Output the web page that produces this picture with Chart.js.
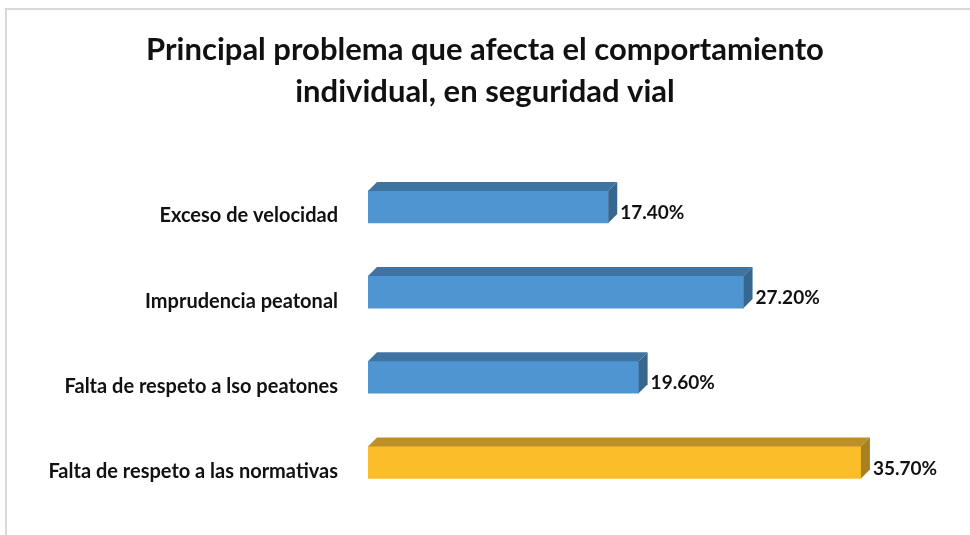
<!DOCTYPE html>
<html>
<head>
<meta charset="utf-8">
<script src="https://cdn.jsdelivr.net/npm/chart.js@4.4.1/dist/chart.umd.min.js"></script>
<style>
  html, body { margin: 0; padding: 0; background: #fff; }
  #wrap { position: relative; width: 970px; height: 535px; }
  #frame {
    position: absolute; left: 5px; top: 8px; right: -2px; bottom: -2px;
    border-top: 2px solid #d9d9d9; border-left: 2px solid #d9d9d9;
    pointer-events: none;
  }
</style>
</head>
<body>
<div id="wrap">
  <canvas id="myChart" width="970" height="535"></canvas>
  <div id="frame"></div>
</div>
<script>
// chart data
const categories = [
  "Exceso de velocidad",
  "Imprudencia peatonal",
  "Falta de respeto a lso peatones",
  "Falta de respeto a las normativas",
];
const values = [17.4, 27.2, 19.6, 35.7];
const highlighted = [false, false, false, true];

// colours for front / top / side faces
const blue = { front: "#4F95D2", top: "#3F73A2", side: "#37678F" };
const gold = { front: "#FCBD2A", top: "#BE8F28", side: "#A9801F" };
const depth = 9;

const fontName = "Lato, 'Open Sans', sans-serif";

// draws the fake 3d faces and the value labels
const bar3d = {
  id: "bar3d",
  afterDatasetsDraw(chart) {
    const { ctx } = chart;
    const meta = chart.getDatasetMeta(0);
    meta.data.forEach((bar, i) => {
      const c = highlighted[i] ? gold : blue;
      const top = bar.y - bar.height / 2;
      const bottom = bar.y + bar.height / 2;
      const left = bar.base;
      const right = bar.x;
      ctx.save();
      // top face
      ctx.fillStyle = c.top;
      ctx.beginPath();
      ctx.moveTo(left, top);
      ctx.lineTo(left + depth, top - depth);
      ctx.lineTo(right + depth, top - depth);
      ctx.lineTo(right, top);
      ctx.closePath();
      ctx.fill();
      // side face
      ctx.fillStyle = c.side;
      ctx.beginPath();
      ctx.moveTo(right, top);
      ctx.lineTo(right + depth, top - depth);
      ctx.lineTo(right + depth, bottom - depth);
      ctx.lineTo(right, bottom);
      ctx.closePath();
      ctx.fill();
      // value label
      ctx.fillStyle = "#111";
      ctx.font = "bold 19px " + fontName;
      ctx.textAlign = "left";
      ctx.textBaseline = "middle";
      ctx.fillText(values[i].toFixed(2) + "%", right + depth + 3, bar.y + 6);
      ctx.restore();
    });
  },
};

const ctx = document.getElementById("myChart");

new Chart(ctx, {
  type: "bar",
  data: {
    labels: categories,
    datasets: [
      {
        data: values,
        backgroundColor: highlighted.map((h) => (h ? gold.front : blue.front)),
        borderWidth: 0,
        barThickness: 32,
      },
    ],
  },
  plugins: [bar3d],
  options: {
    indexAxis: "y",
    responsive: false,
    animation: false,
    layout: { padding: { top: 0, right: 0, bottom: 30, left: 0 } },
    plugins: {
      legend: { display: false },
      tooltip: { enabled: false },
      title: {
        display: true,
        text: ["Principal problema que afecta el comportamiento", "individual, en seguridad vial"],
        color: "#111",
        font: { family: fontName, size: 31, weight: "bold", lineHeight: 1.36 },
        padding: { top: 29, bottom: 51 },
      },
    },
    scales: {
      x: { display: false, min: 0, max: 43.6 },
      y: {
        afterFit: (scale) => {
          // fixed label column, and no extra room for the label padding
          scale.width = 368;
          scale.paddingTop = 0;
          scale.paddingBottom = 0;
        },
        grid: { display: false, drawTicks: false },
        border: { display: false },
        ticks: {
          color: "#111",
          padding: 30,
          labelOffset: 9,
          font: { family: fontName, size: 20, weight: "bold" },
        },
      },
    },
  },
});
</script>
</body>
</html>
